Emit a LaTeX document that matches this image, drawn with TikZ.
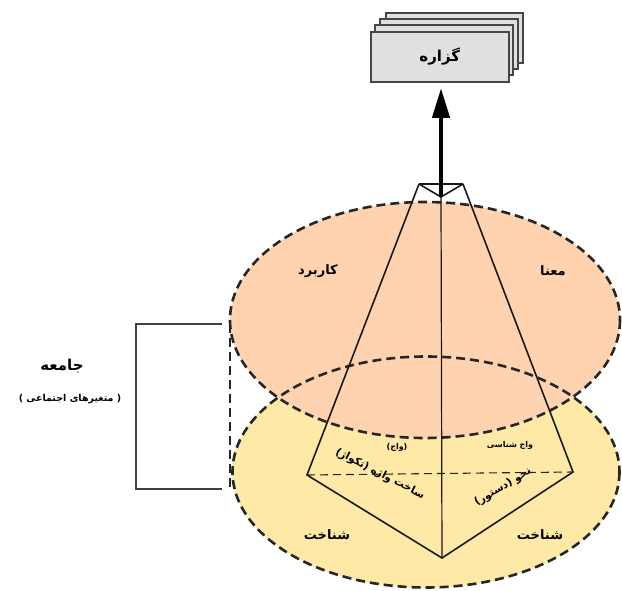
\documentclass[tikz,border=0pt]{standalone}
\usepackage{fontspec}
\usetikzlibrary{shapes.geometric,arrows.meta}
\newfontfamily\fa[Script=Arabic]{DejaVu Sans}
\TeXXeTstate=1
\newcommand{\fat}[1]{\beginR #1\endR}
\definecolor{peach}{RGB}{255,211,176}
\definecolor{pale}{RGB}{255,233,166}
\definecolor{boxgray}{RGB}{224,224,224}
\definecolor{boxline}{RGB}{70,70,70}
\begin{document}
\begin{tikzpicture}[x=1pt,y=-1pt,
  dashedge/.style={draw=black!85, line width=2.6pt, dash pattern=on 9pt off 5pt},
  pyr/.style={draw=black!90, line width=1.6pt},
  thindash/.style={draw=black!85, line width=1.1pt, dash pattern=on 8pt off 5pt},
  bracketline/.style={draw=black!75, line width=1.6pt},
  stackbox/.style={draw=boxline, fill=boxgray, line width=1.6pt},
  biglabel/.style={font=\fa\bfseries\fontsize{13}{15}\selectfont, inner sep=1pt},
  smalllabel/.style={font=\fa\bfseries\fontsize{8}{9}\selectfont, inner sep=1pt},
  midlabel/.style={font=\fa\bfseries\fontsize{10.5}{12}\selectfont, inner sep=0pt}
]
\useasboundingbox (0,0) rectangle (622,591);

% ellipses
\fill[pale] (426,472) ellipse [x radius=194, y radius=116];
\fill[peach] (425,320) ellipse [x radius=195, y radius=118];
\draw[dashedge] (425,320) ellipse [x radius=195, y radius=118];
\draw[dashedge] (426,472) ellipse [x radius=193.5, y radius=115.5];

% bracket
\coordinate (b1) at (222,324);
\coordinate (b2) at (136,324);
\coordinate (b3) at (136,489);
\coordinate (b4) at (222,489);
\coordinate (d1) at (230,324);
\coordinate (d2) at (230,489);
\draw[bracketline] (b1) -- (b2) -- (b3) -- (b4);
\draw[draw=black!85, line width=1.2pt, dash pattern=on 9pt off 5pt] (d1) -- (d2);

% pyramid
\coordinate (tl) at (419,184);
\coordinate (tr) at (463,184);
\coordinate (tm) at (441,197);
\coordinate (lc) at (307,475);
\coordinate (rc) at (573,472);
\coordinate (bt) at (442,558);
\coordinate (tip) at (441,88);
\draw[pyr] (tl) -- (tr);
\draw[pyr] (tl) -- (tm) -- (tr);
\draw[pyr, line join=miter] (tl) -- (lc) -- (bt) -- (rc) -- (tr);
\draw[pyr, line width=1.2pt] (tm) -- (bt);
\draw[thindash] (lc) -- (rc);

% arrow
\draw[line width=4.5pt, -{Triangle[length=30pt,width=17pt]}] (tm) -- (tip);

% stacked boxes
\draw[stackbox] (386,13) rectangle (523,63);
\draw[stackbox] (380,19) rectangle (518,69);
\draw[stackbox] (375,25) rectangle (513,75);
\node[stackbox, minimum width=138pt, minimum height=50pt, inner sep=0, anchor=north west,
  font=\fa\bfseries\fontsize{15}{17}\selectfont] (gz) at (370,31) {\fat{گزاره}};

% labels
\node[biglabel] (karbord) at (318,271) {\fat{کاربرد}};
\node[biglabel] (mana) at (553,271) {\fat{معنا}};
\node[biglabel] (shl) at (327,535) {\fat{شناخت}};
\node[biglabel] (shr) at (540,535) {\fat{شناخت}};
\node[font=\fa\bfseries\fontsize{15}{17}\selectfont] (jameh) at (62,366) {\fat{جامعه}};
\node[font=\fa\bfseries\fontsize{9.5}{11}\selectfont] (motaghayer) at (70,399) {\fat{( متغیرهای اجتماعی )}};

\node[smalllabel] (vaj) at (397,447) {\fat{(واج)}};
\node[smalllabel] (vajshenasi) at (510,445) {\fat{واج شناسی}};
\node[midlabel, rotate=-27] (sakht) at (380,474) {\fat{ساخت واژه (تکواژ)}};
\node[midlabel, rotate=31] (nahv) at (503,487) {\fat{نحو (دستور)}};
\end{tikzpicture}
\end{document}
